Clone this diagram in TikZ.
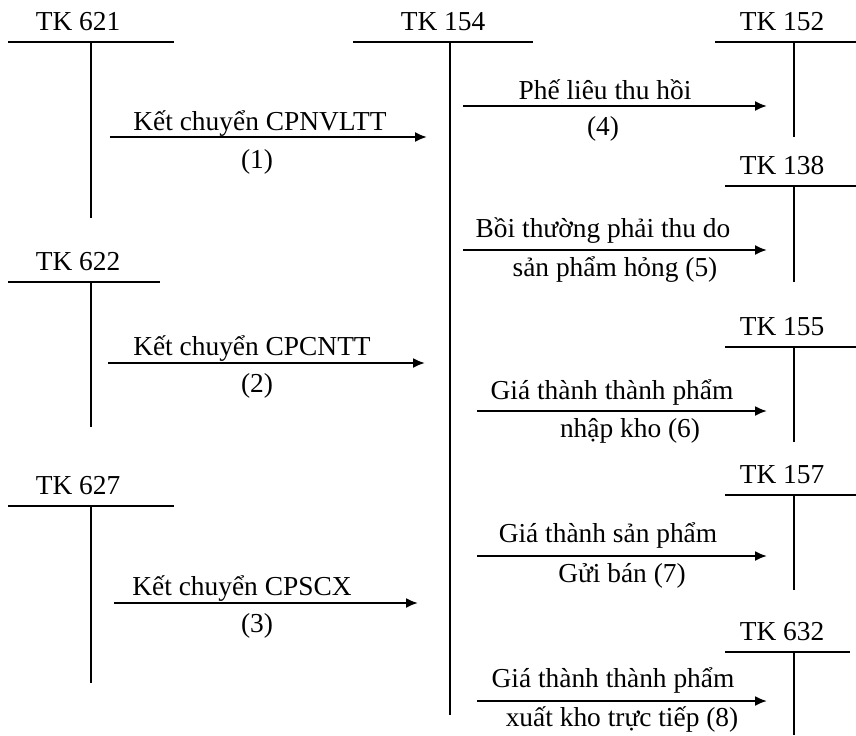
\documentclass[tikz,border=0pt]{standalone}
\usepackage{fontspec}
\setmainfont{Liberation Serif}
\usetikzlibrary{arrows.meta,positioning}
\tikzstyle{tline} = [line width=0.6pt]
\tikzstyle{arrow} = [-{Latex[length=6pt,width=5pt]}, line width=1pt]
\tikzstyle{acct} = [anchor=base, inner sep=0pt, font=\fontsize{13.7}{16}\selectfont]
\tikzstyle{lbl} = [anchor=base, inner sep=0pt, font=\fontsize{13.7}{16}\selectfont]

\begin{document}
\begin{tikzpicture}[x=0.5pt, y=-0.5pt]
  \useasboundingbox (0,0) rectangle (856,735);
  % left accounts
  \foreach \name/\ly/\rx/\bot in {621/42/174/218, 622/282/160/427, 627/506/174/683} {
    \node (tk\name) [acct] at (78,\ly-12) {TK \name};
    \draw [tline] (8,\ly) -- (\rx,\ly) (91,\ly) -- (91,\bot);
  }
  % middle account
  \node (tk154) [acct] at (443,30) {TK 154};
  \draw [tline] (353,42) -- (533,42) (450,42) -- (450,715);
  % right accounts
  \foreach \name/\ly/\lx/\rx/\bot in {152/42/715/856/137, 138/186/725/856/282,
      155/347/725/856/442, 157/495/725/856/590, 632/652/725/850/735} {
    \node (tk\name) [acct] at (782,\ly-12) {TK \name};
    \draw [tline] (\lx,\ly) -- (\rx,\ly) (794,\ly) -- (794,\bot);
  }
  % arrow ends
  \coordinate (a1s) at (110,137); \coordinate (a1e) at (427,137);
  \coordinate (a2s) at (108,363); \coordinate (a2e) at (425,363);
  \coordinate (a3s) at (114,603); \coordinate (a3e) at (418,603);
  \coordinate (a4s) at (463,106); \coordinate (a4e) at (767,106);
  \coordinate (a5s) at (463,250); \coordinate (a5e) at (767,250);
  \coordinate (a6s) at (477,411); \coordinate (a6e) at (767,411);
  \coordinate (a7s) at (477,556); \coordinate (a7e) at (767,556);
  \coordinate (a8s) at (477,701); \coordinate (a8e) at (767,701);
  \foreach \i in {1,...,8} {
    \draw [arrow] (a\i s) -- (a\i e);
  }
  % labels
  \node (l1a) [lbl] at (260,130) {Kết chuyển CPNVLTT};
  \node (l1b) [lbl] at (257,168) {(1)};
  \node (l2a) [lbl] at (252,355) {Kết chuyển CPCNTT};
  \node (l2b) [lbl] at (257,392) {(2)};
  \node (l3a) [lbl] at (242,595) {Kết chuyển CPSCX};
  \node (l3b) [lbl] at (257,632) {(3)};
  \node (l4a) [lbl] at (605,99) {Phế liêu thu hồi};
  \node (l4b) [lbl] at (603,135) {(4)};
  \node (l5a) [lbl] at (603,237) {Bồi thường phải thu do};
  \node (l5b) [lbl] at (615,276) {sản phẩm hỏng (5)};
  \node (l6a) [lbl] at (612,399) {Giá thành thành phẩm};
  \node (l6b) [lbl] at (630,437) {nhập kho (6)};
  \node (l7a) [lbl] at (608,542) {Giá thành sản phẩm};
  \node (l7b) [lbl] at (622,582) {Gửi bán (7)};
  \node (l8a) [lbl] at (613,687) {Giá thành thành phẩm};
  \node (l8b) [lbl] at (622,726) {xuất kho trực tiếp (8)};
\end{tikzpicture}
\end{document}
